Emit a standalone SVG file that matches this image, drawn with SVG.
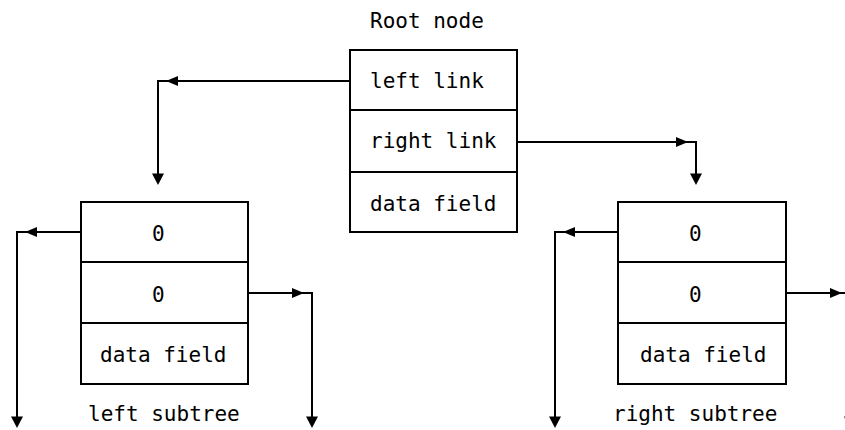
<svg xmlns="http://www.w3.org/2000/svg" width="845" height="430" viewBox="0 0 845 430">
<style>
.box{fill:#fff;stroke:#000;stroke-width:2}
.div{stroke:#000;stroke-width:2}
.t{font-family:"DejaVu Sans Mono","Liberation Mono",monospace;font-size:21px;fill:#000}
.c{fill:none;stroke:#000;stroke-width:2}
.ah{fill:#000}
</style>
<defs>
<path id="ar" class="ah" d="M0,0 L-12,-5 L-12,5 Z"/>
</defs>
<rect width="845" height="430" fill="#fff"/>
<g id="root-node">
<text class="t" x="370" y="28">Root node</text>
<rect class="box" x="350" y="50" width="167" height="182"/>
<line class="div" x1="350" y1="110" x2="517" y2="110"/>
<line class="div" x1="350" y1="172" x2="517" y2="172"/>
<text class="t" x="370" y="88">left link</text>
<text class="t" x="370" y="148">right link</text>
<text class="t" x="370" y="211">data field</text>
</g>
<g id="left-subtree">
<rect class="box" x="81" y="202" width="167" height="182"/>
<line class="div" x1="81" y1="262" x2="248" y2="262"/>
<line class="div" x1="81" y1="323" x2="248" y2="323"/>
<text class="t" x="152" y="241">0</text>
<text class="t" x="152" y="302">0</text>
<text class="t" x="100" y="362">data field</text>
<text class="t" x="88" y="421">left subtree</text>
</g>
<g id="right-subtree">
<rect class="box" x="618" y="202" width="168" height="182"/>
<line class="div" x1="618" y1="262" x2="786" y2="262"/>
<line class="div" x1="618" y1="323" x2="786" y2="323"/>
<text class="t" x="689" y="241">0</text>
<text class="t" x="689" y="302">0</text>
<text class="t" x="640" y="362">data field</text>
<text class="t" x="613" y="421">right subtree</text>
</g>
<g id="connectors">
<polyline class="c" points="350,81 158,81 158,176"/>
<use href="#ar" transform="translate(166,81) rotate(180)"/>
<use href="#ar" transform="translate(158,185) rotate(90) scale(0.95,1.2)"/>
<polyline class="c" points="517,142 696,142 696,176"/>
<use href="#ar" transform="translate(688,142)"/>
<use href="#ar" transform="translate(696,185) rotate(90) scale(0.95,1.2)"/>
<polyline class="c" points="81,232 17,232 17,420"/>
<use href="#ar" transform="translate(25,232) rotate(180)"/>
<use href="#ar" transform="translate(17,428) rotate(90) scale(0.95,1.2)"/>
<polyline class="c" points="248,293 312,293 312,420"/>
<use href="#ar" transform="translate(304,293)"/>
<use href="#ar" transform="translate(312,428) rotate(90) scale(0.95,1.2)"/>
<polyline class="c" points="618,232 555,232 555,420"/>
<use href="#ar" transform="translate(563,232) rotate(180)"/>
<use href="#ar" transform="translate(555,428) rotate(90) scale(0.95,1.2)"/>
<polyline class="c" points="786,293 850,293 850,420"/>
<use href="#ar" transform="translate(842,293)"/>
<use href="#ar" transform="translate(850,428) rotate(90) scale(0.95,1.2)"/>
</g>
</svg>
